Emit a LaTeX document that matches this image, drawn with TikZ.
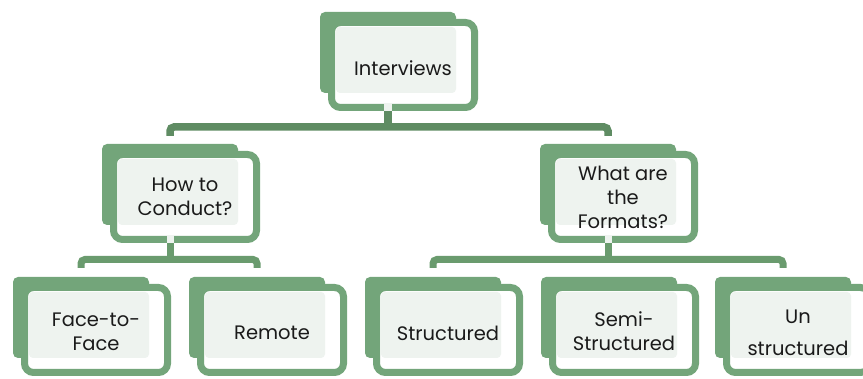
\documentclass[tikz,border=0pt]{standalone}
\usepackage{fontspec}
\setmainfont{Poppins}
\usetikzlibrary{calc}
\definecolor{gmid}{HTML}{73A57A}
\definecolor{gdark}{HTML}{5F8C63}
\definecolor{gline}{HTML}{6A9B6E}
\definecolor{glight}{HTML}{EEF3EF}
\definecolor{ink}{HTML}{1A1A1A}
\tikzset{
  backbox/.style={fill=gmid, rounded corners=5pt, minimum width=136pt, minimum height=81pt, inner sep=0pt, outer sep=0pt, anchor=north west},
  framebox/.style={draw=gmid, line width=7pt, fill=white, rounded corners=9pt, minimum width=143pt, minimum height=85pt, inner sep=0pt, outer sep=0pt, anchor=north west},
  lightbox/.style={fill=glight, rounded corners=4pt, minimum width=120pt, minimum height=66pt, inner sep=0pt, outer sep=0pt, anchor=north west},
  lbl/.style={text=ink, font=\fontsize{19.5}{24}\selectfont, align=center, inner sep=0pt},
  conA/.style={draw=gdark, line width=7.5pt, rounded corners=4pt},
  conB/.style={draw=gline, line width=7pt, rounded corners=4pt},
  patch/.style={fill=glight},
}
\newcommand\smartnode[5]{%
  \node[backbox] (#1-b) at (#2,#3) {};
  \node[framebox] (#1-f) at ([xshift=11.5pt,yshift=-10.5pt]#1-b.north west) {};
  \node[lightbox] (#1-l) at ([xshift=16pt,yshift=-15pt]#1-b.north west) {};
  \node[lbl] (#1) at ([yshift=#5]#1-f.center) {#4};
}
\begin{document}
\begin{tikzpicture}[x=1pt,y=-1pt]
\useasboundingbox (0,0) rectangle (863,379);
\smartnode{iv}{320}{12}{Interviews}{-3pt}
\smartnode{how}{102}{144}{How to\\Conduct?}{0pt}
\smartnode{what}{540}{144}{What are\\the\\Formats?}{0pt}
\smartnode{face}{13}{277}{Face-to-\\Face}{-1.5pt}
\smartnode{rem}{189}{277}{Remote}{-3pt}
\smartnode{str}{365}{277}{Structured}{-3pt}
\smartnode{semi}{541}{277}{Semi-\\Structured}{-1.5pt}
\smartnode{un}{715}{277}{Un\\[8pt]structured}{-3pt}
% level 1 connector
\coordinate (j1) at ([yshift=17pt]how-b.north);
\draw[conA] ([yshift=8pt]how-b.north) -- (j1) -- (j1 -| what-b.north) -- ([yshift=8pt]what-b.north);
\draw[conA, rounded corners=0pt] ([yshift=-18pt]iv-b.south) -- (iv-b.south |- j1);
\fill[patch] ([xshift=-3.75pt,yshift=-10pt]iv-b.south) rectangle ([xshift=3.75pt,yshift=-18pt]iv-b.south);
% level 2 left
\coordinate (j2) at ([yshift=17.5pt]face-b.north);
\draw[conB] ([yshift=9pt]face-b.north) -- (j2) -- (j2 -| rem-b.north) -- ([yshift=9pt]rem-b.north);
\draw[conB, rounded corners=0pt] ([yshift=-18pt]how-b.south) -- (how-b.south |- j2);
\fill[patch] ([xshift=-3.5pt,yshift=-10pt]how-b.south) rectangle ([xshift=3.5pt,yshift=-18pt]how-b.south);
% level 2 right
\coordinate (j3) at ([yshift=17.5pt]str-b.north);
\draw[conB] ([yshift=9pt]str-b.north) -- (j3) -- (j3 -| un-b.north) -- ([yshift=9pt]un-b.north);
\draw[conB, rounded corners=0pt] ([yshift=-18pt]what-b.south) -- (what-b.south |- j3);
\fill[patch] ([xshift=-3.5pt,yshift=-10pt]what-b.south) rectangle ([xshift=3.5pt,yshift=-18pt]what-b.south);
\end{tikzpicture}
\end{document}
